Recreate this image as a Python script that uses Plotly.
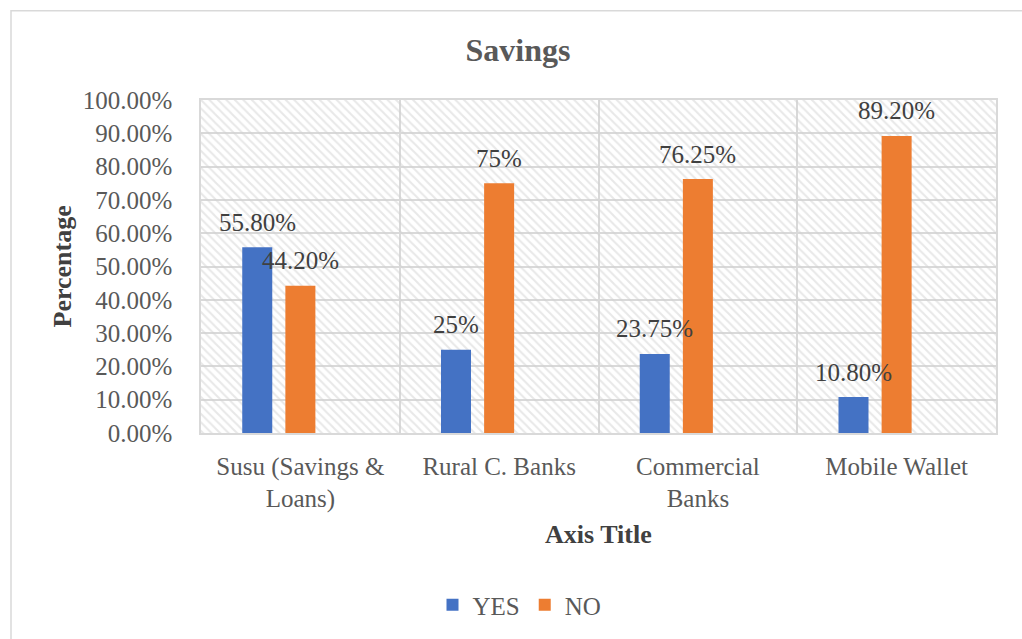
import plotly.graph_objects as go

# Survey results: share of respondents using each savings channel
categories = ["Susu (Savings &<br>Loans)", "Rural C. Banks", "Commercial<br>Banks", "Mobile Wallet"]
yes_values = [0.558, 0.25, 0.2375, 0.108]
no_values = [0.442, 0.75, 0.7625, 0.892]
series_names = ["YES", "NO"]
y_ticks = [0.0, 0.1, 0.2, 0.3, 0.4, 0.5, 0.6, 0.7, 0.8, 0.9, 1.0]

FONT = "Liberation Serif"
GRID = "#d9d9d9"
BAR_W = 0.151
OFFSETS = [-0.2925, -0.0755]
COLORS = ["#4472c4", "#ed7d31"]
Y_MAX = 1.0


def pct_label(v):
    p = round(v * 100, 2)
    return f"{p:.0f}%" if p == int(p) else f"{p:.2f}%"


xs = list(range(len(categories)))
n = len(categories)

fig = go.Figure()

# hatched plot-area background
fig.add_trace(go.Bar(
    x=[(n - 1) / 2], y=[Y_MAX], width=[n], offset=-n / 2,
    marker=dict(color="rgba(0,0,0,0)", line=dict(width=0),
                pattern=dict(shape="\\", fgcolor="#d2d2d2", size=6, solidity=0.35)),
    showlegend=False, hoverinfo="skip",
))

for name, vals, off, col in zip(series_names, [yes_values, no_values], OFFSETS, COLORS):
    fig.add_trace(go.Bar(
        name=name, x=xs, y=vals, width=BAR_W, offset=off,
        marker=dict(color=col, line=dict(width=0)),
    ))
    for x, v in zip(xs, vals):
        fig.add_annotation(
            x=x + off + BAR_W / 2, y=v, xref="x", yref="y",
            text=pct_label(v), showarrow=False, xanchor="center",
            yanchor="middle", yshift=25,
            font=dict(family=FONT, size=25, color="#404040"),
        )

L, R, T, B = 201, 26, 100, 205
W, H = 1022, 639
pw, ph = W - L - R, H - T - B

# outer chart border
fig.add_shape(type="rect", xref="paper", yref="paper",
              x0=(11 - L) / pw, x1=(W + 20 - L) / pw,
              y0=-(H + 20 - T - ph) / ph, y1=1 + (T - 10.5) / ph,
              line=dict(color=GRID, width=1.5), fillcolor="rgba(0,0,0,0)", layer="below")

fig.add_annotation(x=(62 - L) / pw, y=0.5, xref="paper", yref="paper",
                   xanchor="center", yanchor="middle",
                   text="<b>Percentage</b>", textangle=-90, showarrow=False,
                   font=dict(family=FONT, size=26, color="#404040"))
fig.add_annotation(x=0.5, y=-(536 - T - ph) / ph, xref="paper", yref="paper",
                   xanchor="center", yanchor="middle",
                   text="<b>Axis Title</b>", showarrow=False,
                   font=dict(family=FONT, size=26, color="#404040"))

fig.update_layout(
    width=W, height=H,
    margin=dict(l=L, r=R, t=T, b=B),
    paper_bgcolor="white", plot_bgcolor="white",
    barmode="overlay",
    title=dict(text="<b>Savings</b>", x=518 / W, xanchor="center",
               y=1 - 50 / H, yanchor="middle",
               font=dict(family=FONT, size=32, color="#595959")),
    font=dict(family=FONT, size=25, color="#595959"),
    xaxis=dict(
        range=[-0.5, n - 0.5], tickvals=xs, ticktext=categories,
        showgrid=False, ticks="", ticklabelstandoff=10,
        tickfont=dict(family=FONT, size=25, color="#595959"),
        showline=True, linecolor=GRID, linewidth=1.5, mirror=True,
        minor=dict(tickmode="array", tickvals=[x + 0.5 for x in xs[:-1]],
                   showgrid=True, gridcolor=GRID, gridwidth=1.5, ticks=""),
        zeroline=False,
    ),
    yaxis=dict(
        range=[0, Y_MAX], tickvals=y_ticks, tickformat=".2%",
        showgrid=True, gridcolor=GRID, gridwidth=1.5, zeroline=False,
        showline=True, linecolor=GRID, linewidth=1.5, mirror=True,
        ticks="", ticklabelstandoff=22,
        tickfont=dict(family=FONT, size=25, color="#595959"),
    ),
    legend=dict(orientation="h", x=0.5 - 79 / pw, xanchor="center",
                y=-(605 - T - ph) / ph, yanchor="middle",
                font=dict(family=FONT, size=25, color="#595959"),
                itemwidth=30, traceorder="normal"),
    showlegend=True,
)

fig.write_html("out.html")
